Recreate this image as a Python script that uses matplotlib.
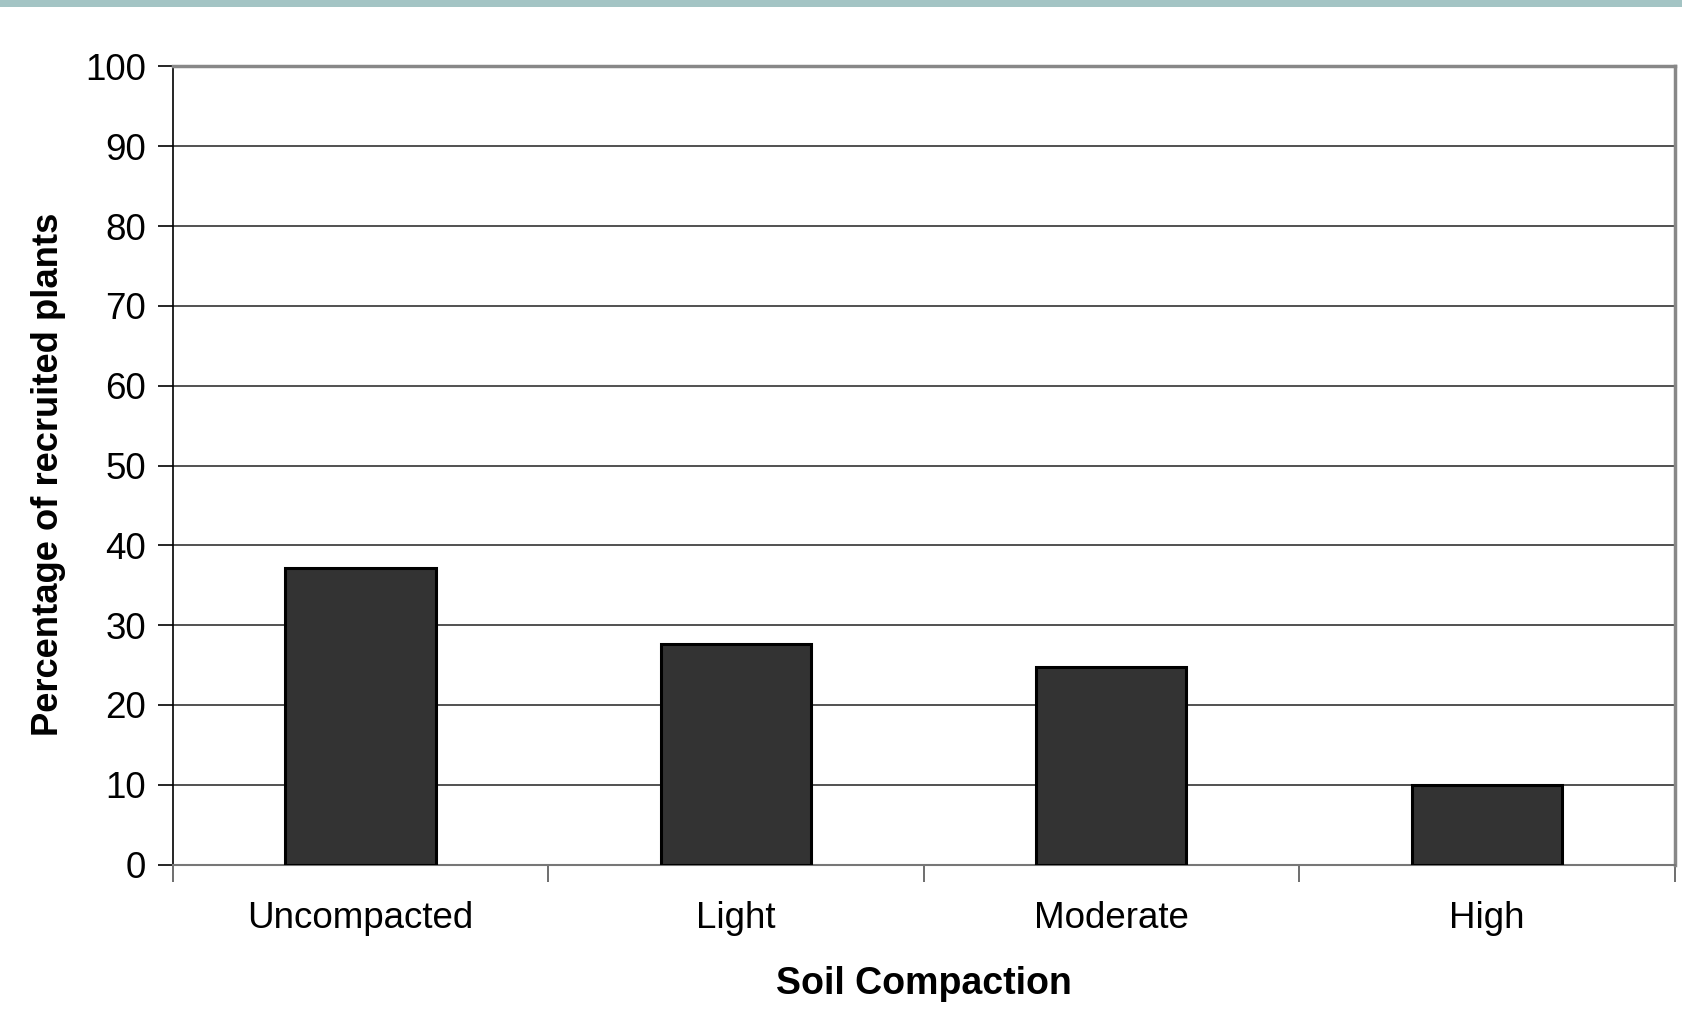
import matplotlib.pyplot as plt
from matplotlib.patches import Rectangle

plt.rcParams['font.family'] = ['Liberation Sans', 'DejaVu Sans']

# percentage of recruited plants per compaction level
kategori = ['Uncompacted', 'Light', 'Moderate', 'High']
persen = [37.2, 27.7, 24.8, 10.0]

fig = plt.figure(figsize=(16.82, 10.21), dpi=100)
ax = fig.add_axes([172.7 / 1682, 1 - 864.6 / 1021, (1674.5 - 172.7) / 1682, (864.6 - 66.5) / 1021])

# strip di atas
fig.patches.append(Rectangle((0, 1 - 7 / 1021), 1, 7 / 1021, transform=fig.transFigure,
                             facecolor='#a3c4c4', edgecolor='none'))

posisi = list(range(len(kategori)))
ax.bar(posisi, persen, width=0.4, color='#333333', edgecolor='black', linewidth=2.2, zorder=3)

ax.set_xlim(-0.5, len(kategori) - 0.5)
ax.set_ylim(0, 100)
ax.set_yticks(range(0, 101, 10))
ax.yaxis.grid(True, color='#222222', linewidth=1.1, zorder=0)

ax.set_xticks(posisi)
ax.set_xticklabels(kategori, fontsize=26.5)
ax.set_xticks([p - 0.5 for p in range(len(kategori) + 1)], minor=True)
ax.tick_params(axis='x', which='major', length=0, pad=26)
ax.tick_params(axis='x', which='minor', length=12, width=1.2, color='#555555')
ax.tick_params(axis='y', length=11, width=1.2, labelsize=26.5, pad=8)

for s in ['top', 'right']:
    ax.spines[s].set_color('#888888')
    ax.spines[s].set_linewidth(2.5)
ax.spines['left'].set_color('black')
ax.spines['left'].set_linewidth(1.2)
ax.spines['bottom'].set_color('#777777')
ax.spines['bottom'].set_linewidth(1.5)

ax.set_xlabel('Soil Compaction', fontsize=27, fontweight='bold', labelpad=22)
ax.set_ylabel('Percentage of recruited plants', fontsize=26.2, fontweight='bold', labelpad=14)
ax.yaxis.label.set_y(0.489)

fig.savefig('out.png', dpi=100)
